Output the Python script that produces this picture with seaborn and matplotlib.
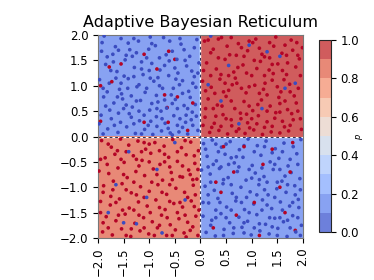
import numpy as np
import pandas as pd
import matplotlib
matplotlib.use("Agg")
import matplotlib.pyplot as plt
import seaborn as sns

# --- dados: probabilidade prevista por quadrante (x<0/x>0, y>0/y<0) ---
p_top_left = 0.15
p_top_right = 0.95
p_bottom_left = 0.85
p_bottom_right = 0.15

# pontos da classe 0 (azul)
blue_tl = [(-1.92,1.85),(-1.71,1.62),(-1.55,1.93),(-1.38,1.71),(-1.21,1.88),(-1.05,1.55),(-0.88,1.79),(-0.72,1.95),(-0.55,1.68),(-0.38,1.82),(-0.21,1.58),(-0.07,1.91),
    (-1.85,1.42),(-1.63,1.28),(-1.47,1.51),(-1.29,1.36),(-1.12,1.22),(-0.95,1.44),(-0.79,1.31),(-0.61,1.49),(-0.44,1.25),(-0.27,1.39),(-0.12,1.18),(-1.97,1.12),
    (-1.78,1.05),(-1.58,0.93),(-1.41,1.14),(-1.24,0.98),(-1.08,0.87),(-0.91,1.09),(-0.74,0.95),(-0.57,0.82),(-0.41,1.02),(-0.23,0.89),(-0.09,0.97),(-1.89,0.78),
    (-1.69,0.66),(-1.52,0.74),(-1.33,0.58),(-1.17,0.71),(-0.99,0.52),(-0.83,0.68),(-0.66,0.56),(-0.49,0.73),(-0.32,0.61),(-0.16,0.48),(-1.94,0.42),(-1.74,0.35),
    (-1.56,0.28),(-1.39,0.45),(-1.19,0.31),(-1.02,0.22),(-0.86,0.39),(-0.69,0.26),(-0.52,0.41),(-0.35,0.18),(-0.18,0.33),(-0.05,0.12),(-1.81,0.15),(-1.61,0.08),
    (-1.44,0.19),(-1.27,0.06),(-1.09,0.14),(-0.93,0.04),(-0.76,0.11),(-0.59,0.07),(-0.42,0.09),(-0.25,0.05),
    (-1.66,1.77),(-1.33,1.58),(-1.01,1.72),(-0.67,1.61),(-0.32,1.71),(-1.82,1.57),(-1.49,1.19),(-1.15,1.47),(-0.83,1.16),(-0.5,1.35),(-0.17,1.29),(-1.9,0.95),
    (-1.54,0.84),(-1.2,1.02),(-0.86,0.81),(-0.53,0.95),(-0.2,0.77),(-1.77,0.52),(-1.45,0.62),(-1.1,0.42),(-0.77,0.5),(-0.45,0.55),(-0.1,0.63),(-1.6,0.46),
    (-1.3,0.25),(-0.97,0.3),(-0.63,0.16),(-0.29,0.28),(-1.98,0.25),(-1.41,1.84),(-0.98,1.96),(-0.46,1.52),(-0.03,1.45),(-1.25,1.65),(-0.6,1.88),(-1.75,1.3),
    (-0.35,1.1),(-1.0,1.3),(-1.65,1.15),(-0.7,0.72),(-1.35,0.8),(-0.28,0.42),
    (-1.88,1.98),(-1.6,1.7),(-1.3,1.93),(-0.95,1.83),(-0.8,1.55),(-0.4,1.93),(-0.12,1.75),(-1.93,1.68),(-1.45,1.6),(-1.15,1.33),(-0.7,1.4),(-0.3,1.5),
    (-1.7,1.47),(-0.05,1.25),(-1.55,1.05),(-1.3,1.18),(-0.98,1.15),(-0.62,1.2),(-0.48,1.13),(-0.15,1.05),(-1.82,0.88),(-1.42,0.95),(-1.05,0.95),(-0.8,1.0),
    (-0.35,0.85),(-1.62,0.78),(-1.25,0.7),(-0.95,0.65),(-0.55,0.65),(-0.25,0.55),(-1.85,0.6),(-1.5,0.55),(-1.2,0.5),(-0.85,0.55),(-0.4,0.35),(-0.08,0.4),
    (-1.68,0.22),(-1.35,0.38),(-0.75,0.35),(-0.45,0.22),(-0.15,0.22),(-1.9,0.05),(-1.15,0.05),(-0.55,0.03),(-0.85,0.2)]
blue_br = [(0.06,-0.14),(0.23,-0.07),(0.41,-0.21),(0.58,-0.1),(0.76,-0.26),(0.93,-0.05),(1.11,-0.18),(1.28,-0.09),(1.46,-0.24),(1.63,-0.13),(1.81,-0.2),(1.96,-0.06),
    (0.13,-0.39),(0.31,-0.48),(0.48,-0.35),(0.66,-0.52),(0.83,-0.41),(1.01,-0.57),(1.18,-0.37),(1.36,-0.5),(1.53,-0.43),(1.71,-0.58),(1.88,-0.34),(0.02,-0.66),
    (0.19,-0.74),(0.37,-0.63),(0.54,-0.81),(0.72,-0.69),(0.89,-0.86),(1.07,-0.72),(1.24,-0.79),(1.42,-0.65),(1.59,-0.88),(1.77,-0.71),(1.94,-0.83),(0.09,-0.98),
    (0.27,-1.06),(0.44,-0.93),(0.62,-1.12),(0.79,-1.0),(0.97,-1.09),(1.14,-0.95),(1.32,-1.15),(1.49,-1.03),(1.67,-1.1),(1.84,-0.97),(0.16,-1.31),(0.34,-1.22),
    (0.51,-1.39),(0.69,-1.27),(0.86,-1.44),(1.04,-1.33),(1.21,-1.25),(1.39,-1.42),(1.56,-1.29),(1.74,-1.37),(1.91,-1.24),(0.05,-1.57),(0.22,-1.65),(0.4,-1.52),
    (0.57,-1.7),(0.75,-1.59),(0.92,-1.67),(1.1,-1.54),(1.27,-1.73),(1.45,-1.61),(1.62,-1.68),(1.8,-1.56),(1.97,-1.75),(0.11,-1.89),(0.29,-1.96),(0.46,-1.83),
    (0.64,-1.91),(0.81,-1.79),(0.99,-1.94),(1.16,-1.86),(1.34,-1.92),(1.51,-1.81),(1.69,-1.97),(1.86,-1.88),
    (0.35,-0.3),(0.85,-0.18),(1.4,-0.32),(1.75,-0.45),(0.25,-0.55),(0.75,-0.6),(1.2,-0.62),(1.65,-0.78),(0.45,-0.85),(1.0,-0.82),(1.5,-0.9),(0.15,-1.15),
    (0.7,-1.2),(1.25,-1.05),(1.85,-1.15),(0.3,-1.45),(0.95,-1.5),(1.6,-1.45),(0.5,-1.6),(1.15,-1.72),(1.7,-1.65),(0.2,-1.75),(0.85,-1.9),(1.4,-1.78),
    (1.92,-1.4),(0.6,-0.42),(1.3,-0.9),
    (0.1,-0.25),(0.5,-0.15),(0.7,-0.4),(1.05,-0.3),(1.25,-0.2),(1.6,-0.3),(1.9,-0.55),(0.4,-0.6),(0.95,-0.65),(1.45,-0.55),(1.7,-0.95),(0.2,-0.9),
    (0.6,-0.95),(1.15,-0.85),(1.95,-1.05),(0.38,-1.3),(0.8,-1.3),(1.1,-1.15),(1.45,-1.2),(1.8,-1.3),(0.05,-1.3),(0.6,-1.45),(1.2,-1.45),(1.55,-1.6),
    (1.9,-1.6),(0.3,-1.6),(0.85,-1.7),(1.35,-1.6),(0.45,-1.95),(1.05,-1.8),(1.5,-1.95),(1.75,-1.8),(0.15,-0.6),(0.55,-0.55),(1.55,-0.65),(0.9,-1.2),
    (1.3,-1.35),(0.65,-1.8),(1.95,-1.95),(0.3,-0.15)]
blue_noise = [(0.2,1.98),(0.95,1.8),(1.3,1.67),(0.55,1.4),(1.65,0.95),(0.4,0.7),(1.2,0.55),(0.75,0.25),(1.85,1.05),(1.55,1.58),(0.15,1.02),
    (-1.5,-1.7),(-1.25,-1.72),(-0.75,-1.9),(-1.65,-0.95),(-0.85,-0.65),(-1.4,-0.3),(-0.3,-1.25),(-1.05,-1.2),(-0.5,-0.12),(-1.8,-1.5)]

# pontos da classe 1 (vermelho)
red_tr = [(0.08,1.88),(0.25,1.72),(0.41,1.95),(0.57,1.61),(0.74,1.83),(0.92,1.69),(1.08,1.92),(1.25,1.57),(1.43,1.78),(1.59,1.64),(1.77,1.9),(1.93,1.53),
    (0.12,1.45),(0.31,1.33),(0.48,1.52),(0.65,1.27),(0.83,1.41),(1.0,1.2),(1.17,1.48),(1.34,1.31),(1.51,1.43),(1.68,1.22),(1.86,1.37),(0.04,1.09),
    (0.21,0.97),(0.38,1.13),(0.55,0.91),(0.71,1.05),(0.89,0.86),(1.06,1.01),(1.23,0.93),(1.4,1.11),(1.57,0.88),(1.74,1.03),(1.91,0.95),(0.15,0.74),
    (0.33,0.62),(0.5,0.79),(0.67,0.55),(0.85,0.69),(1.02,0.51),(1.19,0.72),(1.36,0.6),(1.53,0.77),(1.7,0.53),(1.87,0.66),(0.09,0.38),(0.27,0.26),
    (0.44,0.43),(0.61,0.21),(0.79,0.35),(0.96,0.17),(1.13,0.41),(1.3,0.29),(1.47,0.47),(1.64,0.19),(1.81,0.33),(1.97,0.14),(0.18,0.08),(0.36,0.12),
    (0.53,0.05),(0.7,0.1),(0.87,0.06),(1.04,0.13),(1.21,0.04),(1.38,0.09),(1.55,0.07),(1.72,0.11),
    (0.2,1.65),(0.52,1.78),(0.85,1.58),(1.15,1.74),(1.47,1.96),(1.8,1.7),(0.06,1.3),(0.4,1.22),(0.73,1.36),(1.1,1.34),(1.42,1.24),(1.95,1.2),
    (0.28,0.85),(0.62,1.02),(0.95,0.98),(1.3,0.82),(1.63,1.12),(1.83,0.8),(0.1,0.55),(0.42,0.6),(0.78,0.46),(1.12,0.63),(1.45,0.36),(1.78,0.45),
    (0.3,0.4),(0.6,0.33),(0.92,0.27),(1.25,0.18),(1.6,0.3),(1.9,0.5),(0.48,1.05),(1.02,1.85),(1.35,1.55),(0.68,1.15),(1.55,0.65),(0.22,0.18),
    (1.7,1.45),(0.9,0.44),(1.26,1.05),(0.35,1.92),(1.99,1.75),
    (0.15,1.9),(0.6,1.95),(0.95,1.88),(1.35,1.85),(1.65,1.8),(1.88,1.85),(0.35,1.55),(0.7,1.6),(1.05,1.5),(1.4,1.42),(1.9,1.6),(0.2,1.2),
    (0.55,1.2),(0.9,1.25),(1.25,1.2),(1.6,1.3),(0.1,0.9),(0.45,0.88),(0.8,0.95),(1.15,0.85),(1.5,0.98),(1.75,0.88),(0.25,0.55),(0.6,0.7),
    (0.95,0.6),(1.3,0.5),(1.65,0.7),(1.95,0.35),(0.4,0.2),(0.75,0.15),(1.1,0.25),(1.4,0.2),(1.75,0.22),(0.05,0.22),(1.0,0.35),(1.55,0.48),
    (0.5,0.35),(1.2,1.62),(0.8,1.75),(1.68,1.6)]
red_bl = [(-1.93,-0.08),(-1.74,-0.21),(-1.56,-0.05),(-1.4,-0.17),(-1.22,-0.09),(-1.07,-0.25),(-0.89,-0.12),(-0.71,-0.19),(-0.54,-0.06),(-0.37,-0.22),(-0.19,-0.11),(-0.04,-0.28),
    (-1.86,-0.42),(-1.67,-0.35),(-1.49,-0.51),(-1.31,-0.38),(-1.14,-0.47),(-0.97,-0.33),(-0.79,-0.55),(-0.62,-0.41),(-0.45,-0.49),(-0.28,-0.36),(-0.11,-0.53),(-1.98,-0.68),
    (-1.79,-0.73),(-1.61,-0.62),(-1.43,-0.81),(-1.26,-0.69),(-1.09,-0.77),(-0.92,-0.64),(-0.74,-0.86),(-0.57,-0.71),(-0.4,-0.79),(-0.23,-0.66),(-0.07,-0.84),(-1.89,-0.97),
    (-1.71,-1.05),(-1.53,-0.93),(-1.35,-1.11),(-1.17,-0.99),(-1.0,-1.08),(-0.83,-0.95),(-0.66,-1.14),(-0.48,-1.02),(-0.31,-1.1),(-0.14,-0.96),(-1.95,-1.28),(-1.76,-1.35),
    (-1.58,-1.23),(-1.39,-1.41),(-1.21,-1.29),(-1.04,-1.37),(-0.87,-1.25),(-0.69,-1.44),(-0.52,-1.32),(-0.35,-1.39),(-0.18,-1.27),(-0.03,-1.45),(-1.84,-1.58),(-1.65,-1.66),
    (-1.47,-1.53),(-1.28,-1.71),(-1.11,-1.6),(-0.94,-1.68),(-0.76,-1.55),(-0.59,-1.74),(-0.42,-1.62),(-0.25,-1.69),(-0.09,-1.57),(-1.91,-1.88),(-1.72,-1.94),(-1.54,-1.82),
    (-1.36,-1.97),(-1.18,-1.86),(-1.01,-1.92),(-0.84,-1.8),(-0.66,-1.95),(-0.49,-1.84),(-0.32,-1.9),(-0.15,-1.78),
    (-1.62,-0.28),(-1.0,-0.15),(-0.45,-0.3),(-1.82,-0.55),(-1.2,-0.58),(-0.7,-0.35),(-0.2,-0.75),(-1.5,-0.75),(-0.95,-0.9),(-0.35,-0.58),(-1.75,-1.18),(-1.25,-1.15),
    (-0.6,-1.28),(-0.1,-1.15),(-1.52,-1.45),(-0.98,-1.5),(-0.45,-1.5),(-1.9,-1.7),(-1.35,-1.82),(-0.8,-1.75),(-0.28,-1.98),(-0.05,-0.65),(-1.15,-0.3),(-0.6,-0.95),
    (-1.8,-0.15),(-1.45,-0.3),(-1.1,-0.12),(-0.8,-0.28),(-0.3,-0.08),(-0.12,-0.38),(-1.95,-0.45),(-1.55,-0.45),(-1.0,-0.5),(-0.6,-0.6),(-0.35,-0.8),(-1.7,-0.88),
    (-1.3,-0.9),(-0.85,-0.75),(-0.55,-0.85),(-0.15,-0.85),(-1.9,-1.1),(-1.45,-1.05),(-1.1,-1.2),(-0.75,-1.1),(-0.25,-1.2),(-1.65,-1.3),(-1.3,-1.45),(-0.8,-1.4),
    (-0.4,-1.3),(-0.12,-1.38),(-1.95,-1.5),(-1.6,-1.55),(-1.2,-1.55),(-0.65,-1.6),(-0.3,-1.55),(-1.8,-1.8),(-1.45,-1.95),(-1.1,-1.8),(-0.55,-1.95),(-0.2,-1.85),
    (-0.9,-1.95),(-0.05,-1.95),(-1.25,-0.45),(-0.7,-0.5)]
red_noise = [(-1.95,1.0),(-1.78,1.37),(-1.73,1.08),(-1.55,1.43),(-1.1,1.62),(-0.85,1.33),(-0.62,1.68),(-0.5,1.52),(-0.7,0.82),(-0.45,0.78),(-0.15,0.66),
    (-0.65,0.57),(-1.1,0.28),(-0.63,0.28),(-0.25,0.12),(-1.95,0.3),
    (0.45,-0.2),(0.85,-0.2),(1.4,-0.25),(1.8,-0.12),(0.65,-0.7),(1.22,-0.55),(0.3,-0.9),(1.55,-1.0),(1.05,-1.3),(0.7,-1.55),(1.65,-1.5),(0.25,-1.8),
    (1.15,-1.95),(1.85,-1.85),(0.4,-1.1),(1.75,-0.7)]

cbar_ticks = [0.0, 0.2, 0.4, 0.6, 0.8, 1.0]
axis_ticks = [-2.0, -1.5, -1.0, -0.5, 0.0, 0.5, 1.0, 1.5, 2.0]

# monta a tabela de pontos
rows = []
for grupo, lab in [(blue_tl, 0), (blue_br, 0), (blue_noise, 0), (red_tr, 1), (red_bl, 1), (red_noise, 1)]:
    for x, y in grupo:
        rows.append({"x": x, "y": y, "label": lab})
df = pd.DataFrame(rows).sample(frac=1.0, random_state=0)  # mistura ordem de desenho

# grade da superfície de decisão
gx = np.linspace(-2, 2, 401)
gy = np.linspace(-2, 2, 401)
XX, YY = np.meshgrid(gx, gy)
P = np.where(YY >= 0,
             np.where(XX < 0, p_top_left, p_top_right),
             np.where(XX < 0, p_bottom_left, p_bottom_right))

sns.set_style("ticks")
plt.rcParams['font.family'] = ['DejaVu Sans']
plt.rcParams.update({"text.color": "black", "axes.labelcolor": "black",
                     "xtick.color": "black", "ytick.color": "black"})

fig = plt.figure(figsize=(3.74, 2.8), dpi=100)
ax = fig.add_axes([0.262, 0.15, 0.548, 0.725])
cax = fig.add_axes([0.853, 0.171, 0.032, 0.686])

cf = ax.contourf(XX, YY, P, levels=np.linspace(0, 1, 11), cmap="coolwarm", alpha=0.8)
ax.axhline(0, color="white", lw=1.0)
ax.axvline(0, color="white", lw=1.0)
ax.axhline(0, color="#333355", lw=0.8, ls=(0, (2.5, 2.5)))
ax.axvline(0, color="#333355", lw=0.8, ls=(0, (2.5, 2.5)))

sns.scatterplot(data=df, x="x", y="y", hue="label", palette={0: "#3b4cc0", 1: "#b40426"},
                s=7, linewidth=0, legend=False, ax=ax, zorder=3)

ax.set_xlim(-2, 2)
ax.set_ylim(-2, 2)
ax.set_xticks(axis_ticks)
ax.set_yticks(axis_ticks)
ax.tick_params(axis="x", rotation=90, labelsize=8.5)
ax.tick_params(axis="y", labelsize=8.5)
ax.set_xlabel("")
ax.set_ylabel("")
for s in ax.spines.values():
    s.set_color("#777777")
ax.set_title("Adaptive Bayesian Reticulum", fontsize=11.5, color="black")

cb = fig.colorbar(cf, cax=cax)
cb.set_ticks(cbar_ticks)
cb.ax.tick_params(labelsize=8.5)
cb.set_label("$p$", fontsize=6, labelpad=-4)

fig.savefig("out.png", dpi=100)
